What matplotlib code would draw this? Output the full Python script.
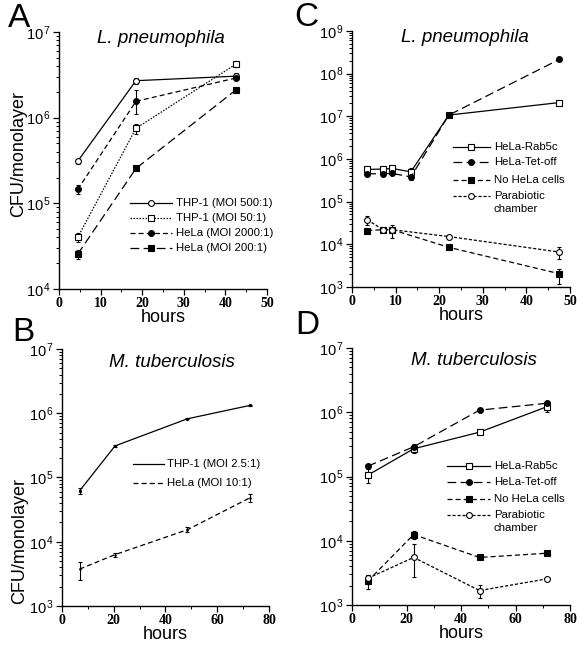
import numpy as np
import matplotlib
matplotlib.use("Agg")
import matplotlib.pyplot as plt
from matplotlib.ticker import FuncFormatter, LogLocator, NullFormatter, MultipleLocator

plt.rcParams["font.family"] = ["Liberation Sans", "DejaVu Sans"]
plt.rcParams["mathtext.fontset"] = "custom"
plt.rcParams["mathtext.rm"] = "Liberation Sans"
plt.rcParams["mathtext.it"] = "Liberation Sans:italic"

# ---- Panel A: L. pneumophila, THP-1 vs HeLa
t_A = [4.5, 18.5, 42.5]
thp500_A = [3.1e5, 2.7e6, 3.05e6]
thp500_A_lo = [2.9e5, 2.5e6, 2.75e6]
thp500_A_hi = [3.3e5, 2.9e6, 3.3e6]
thp50_A = [4.0e4, 7.5e5, 4.2e6]
thp50_A_lo = [3.5e4, 6.5e5, 3.9e6]
thp50_A_hi = [4.5e4, 8.5e5, 4.6e6]
hela2000_A = [1.45e5, 1.55e6, 2.9e6]
hela2000_A_lo = [1.3e5, 1.1e6, 2.8e6]
hela2000_A_hi = [1.65e5, 2.1e6, 3.0e6]
hela200_A = [2.55e4, 2.55e5, 2.1e6]
hela200_A_lo = [2.25e4, 2.45e5, 2.0e6]
hela200_A_hi = [2.85e4, 2.65e5, 2.2e6]
labels_A = ["THP-1 (MOI 500:1)", "THP-1 (MOI 50:1)", "HeLa (MOI 2000:1)", "HeLa (MOI 200:1)"]

# ---- Panel B: M. tuberculosis, THP-1 vs HeLa
t_B = [6.8, 20.5, 48.5, 72.5]
thp_B = [6.2e4, 3.1e5, 8.2e5, 1.32e6]
thp_B_lo = [5.6e4, 3.0e5, 8.0e5, 1.28e6]
thp_B_hi = [6.8e4, 3.2e5, 8.4e5, 1.36e6]
hela_B = [3.75e3, 6.3e3, 1.54e4, 4.8e4]
hela_B_lo = [2.5e3, 5.8e3, 1.42e4, 4.2e4]
hela_B_hi = [4.9e3, 6.8e3, 1.68e4, 5.5e4]
labels_B = ["THP-1 (MOI 2.5:1)", "HeLa (MOI 10:1)"]

# ---- Panel C: L. pneumophila, HeLa lines
t_C = [3.5, 7.1, 9.2, 13.5, 22.2, 47.5]
rab5c_C = [5.7e5, 5.8e5, 6.0e5, 5.0e5, 1.07e7, 2.1e7]
rab5c_C_lo = [5.3e5, 5.4e5, 5.5e5, 4.4e5, 1.02e7, 2.0e7]
rab5c_C_hi = [6.1e5, 6.2e5, 6.5e5, 6.0e5, 1.12e7, 2.2e7]
tetoff_C = [4.5e5, 4.5e5, 4.6e5, 3.8e5, 1.07e7, 2.15e8]
tetoff_C_lo = [4.1e5, 4.2e5, 4.2e5, 3.2e5, 1.02e7, 2.05e8]
tetoff_C_hi = [4.9e5, 4.8e5, 5.0e5, 4.4e5, 1.12e7, 2.25e8]
t_C2 = [3.5, 7.1, 9.2, 22.2, 47.5]
nohela_C = [2.1e4, 2.2e4, 2.2e4, 8.5e3, 2.05e3]
nohela_C_lo = [1.95e4, 2.05e4, 2.05e4, 7.6e3, 1.2e3]
nohela_C_hi = [2.25e4, 2.35e4, 2.35e4, 9.6e3, 2.7e3]
parab_C = [3.75e4, 2.2e4, 2.2e4, 1.52e4, 6.6e3]
parab_C_lo = [2.9e4, 2.05e4, 1.4e4, 1.42e4, 4.6e3]
parab_C_hi = [4.6e4, 2.35e4, 2.9e4, 1.62e4, 8.5e3]

# ---- Panel D: M. tuberculosis, HeLa lines
t_D = [5.8, 22.6, 46.8, 71.5]
rab5c_D = [1.05e5, 2.7e5, 4.9e5, 1.22e6]
rab5c_D_lo = [0.8e5, 2.3e5, 4.7e5, 1.0e6]
rab5c_D_hi = [1.3e5, 3.0e5, 5.1e5, 1.35e6]
tetoff_D = [1.45e5, 2.9e5, 1.08e6, 1.38e6]
tetoff_D_lo = [1.38e5, 2.6e5, 1.03e6, 1.3e6]
tetoff_D_hi = [1.52e5, 3.2e5, 1.13e6, 1.46e6]
nohela_D = [2.35e3, 1.25e4, 5.5e3, 6.4e3]
nohela_D_lo = [1.8e3, 1.05e4, 5.2e3, 6.1e3]
nohela_D_hi = [2.9e3, 1.4e4, 5.8e3, 6.7e3]
parab_D = [2.6e3, 5.5e3, 1.68e3, 2.55e3]
parab_D_lo = [2.4e3, 2.7e3, 1.3e3, 2.45e3]
parab_D_hi = [2.9e3, 8.8e3, 2.05e3, 2.65e3]
labels_CD = ["HeLa-Rab5c", "HeLa-Tet-off", "No HeLa cells", "Parabiotic\nchamber"]

# line styles
SOLID = "-"
DOT = (0, (1.2, 1.2))
SHORT = (0, (2.5, 1.5))
DASH = (0, (4, 2.5))
LONG = (0, (7, 3.5))


def draw(ax, t, y, lo, hi, ls, marker, mfc, ms=4.2):
    y = np.array(y)
    yerr = [y - np.array(lo), np.array(hi) - y]
    ax.errorbar(t, y, yerr=yerr, color="black", lw=0.9, ls=ls, marker=marker,
                ms=ms, mfc=mfc, mec="black", mew=0.8, ecolor="black",
                elinewidth=0.8, capsize=1.5, capthick=0.8)


def legend(ax, entries, x0, x1, xt, ys, dline=0.05, ms=4.2):
    for (ls, marker, mfc, label), y in zip(entries, ys):
        ax.plot([x0, (x0 + x1) / 2, x1], [y, y, y], transform=ax.transAxes,
                color="black", lw=0.9, ls=ls, marker=marker, ms=ms, mfc=mfc,
                mec="black", mew=0.8, markevery=[1], clip_on=False)
        for k, line in enumerate(label.split("\n")):
            ax.text(xt, y - k * dline, line, transform=ax.transAxes,
                    va="center", ha="left", fontsize=8.2)


def style(ax, xmax, xmajor, xminor, ymin, ymax, title, tx, ty):
    ax.set_yscale("log")
    ax.set_xlim(0, xmax)
    ax.set_ylim(ymin, ymax)
    for s in ["top", "right"]:
        ax.spines[s].set_visible(False)
    for s in ["left", "bottom"]:
        ax.spines[s].set_linewidth(1.0)
    xt = np.arange(0, xmax + 1, xmajor)
    ax.set_xticks(xt)
    ax.set_xticklabels([str(v) for v in xt], fontfamily="Liberation Serif",
                       fontsize=10, fontweight="bold")
    ax.xaxis.set_minor_locator(MultipleLocator(xminor))
    ax.yaxis.set_major_locator(LogLocator(base=10, numticks=20))
    ax.yaxis.set_minor_locator(LogLocator(base=10, subs=np.arange(2, 10), numticks=20))
    ax.yaxis.set_minor_formatter(NullFormatter())
    ax.yaxis.set_major_formatter(FuncFormatter(lambda v, p: r"$10^{\,%d}$" % round(np.log10(v))))
    ax.tick_params(which="major", direction="out", length=4, width=0.9, pad=2)
    ax.tick_params(which="minor", direction="out", length=2, width=0.7)
    ax.tick_params(axis="y", labelsize=10.5, pad=1.5)
    ax.set_xlabel("hours", fontsize=13, labelpad=-1)
    ax.text(tx, ty, title, transform=ax.transAxes, ha="center", va="center",
            fontsize=13.5, style="italic")


fig = plt.figure(figsize=(5.87, 6.5), dpi=100)
axA = fig.add_axes([0.1005, 0.5554, 0.3543, 0.3954])
axC = fig.add_axes([0.5997, 0.5585, 0.3714, 0.3938])
axB = fig.add_axes([0.1056, 0.0677, 0.3526, 0.3954])
axD = fig.add_axes([0.5997, 0.0692, 0.3714, 0.3954])

# A
draw(axA, t_A, thp500_A, thp500_A_lo, thp500_A_hi, SOLID, "o", "white")
draw(axA, t_A, thp50_A, thp50_A_lo, thp50_A_hi, DOT, "s", "white")
draw(axA, t_A, hela2000_A, hela2000_A_lo, hela2000_A_hi, DASH, "o", "black")
draw(axA, t_A, hela200_A, hela200_A_lo, hela200_A_hi, LONG, "s", "black")
style(axA, 50, 10, 5, 1e4, 1e7, "L. pneumophila", 0.49, 0.975)
legend(axA, [(SOLID, "o", "white", labels_A[0]), (DOT, "s", "white", labels_A[1]),
             (DASH, "o", "black", labels_A[2]), (LONG, "s", "black", labels_A[3])],
       0.341, 0.543, 0.565, [0.335, 0.276, 0.218, 0.160])

# B
draw(axB, t_B, thp_B, thp_B_lo, thp_B_hi, SOLID, "o", "black", ms=1.5)
draw(axB, t_B, hela_B, hela_B_lo, hela_B_hi, DASH, "o", "black", ms=1.0)
style(axB, 80, 20, 10, 1e3, 1e7, "M. tuberculosis", 0.53, 0.949)
legend(axB, [(SOLID, None, "black", labels_B[0]), (DASH, None, "black", labels_B[1])],
       0.343, 0.493, 0.505, [0.553, 0.479])

# C
draw(axC, t_C, rab5c_C, rab5c_C_lo, rab5c_C_hi, SOLID, "s", "white")
draw(axC, t_C, tetoff_C, tetoff_C_lo, tetoff_C_hi, LONG, "o", "black")
draw(axC, t_C2, nohela_C, nohela_C_lo, nohela_C_hi, DASH, "s", "black")
draw(axC, t_C2, parab_C, parab_C_lo, parab_C_hi, SHORT, "o", "white")
style(axC, 50, 10, 5, 1e3, 1e9, "L. pneumophila", 0.518, 0.975)
legend(axC, [(SOLID, "s", "white", labels_CD[0]), (LONG, "o", "black", labels_CD[1]),
             (DASH, "s", "black", labels_CD[2]), (SHORT, "o", "white", labels_CD[3])],
       0.463, 0.633, 0.651, [0.547, 0.488, 0.418, 0.355], dline=0.05)

# D
draw(axD, t_D, rab5c_D, rab5c_D_lo, rab5c_D_hi, SOLID, "s", "white")
draw(axD, t_D, tetoff_D, tetoff_D_lo, tetoff_D_hi, LONG, "o", "black")
draw(axD, t_D, nohela_D, nohela_D_lo, nohela_D_hi, DASH, "s", "black")
draw(axD, t_D, parab_D, parab_D_lo, parab_D_hi, SHORT, "o", "white")
style(axD, 80, 20, 10, 1e3, 1e7, "M. tuberculosis", 0.56, 0.953)
legend(axD, [(SOLID, "s", "white", labels_CD[0]), (LONG, "o", "black", labels_CD[1]),
             (DASH, "s", "black", labels_CD[2]), (SHORT, "o", "white", labels_CD[3])],
       0.436, 0.633, 0.651, [0.541, 0.479, 0.412, 0.350], dline=0.05)

# y labels
fig.text(0.032, 0.763, "CFU/monolayer", rotation=90, ha="center", va="center", fontsize=13)
fig.text(0.034, 0.168, "CFU/monolayer", rotation=90, ha="center", va="center", fontsize=13)

# panel letters
for letter, x, y in [("A", 0.033, 0.9715), ("C", 0.521, 0.973), ("B", 0.040, 0.4877), ("D", 0.523, 0.5)]:
    fig.text(x, y, letter, ha="center", va="center", fontsize=24)

fig.savefig("out.png", dpi=100)
